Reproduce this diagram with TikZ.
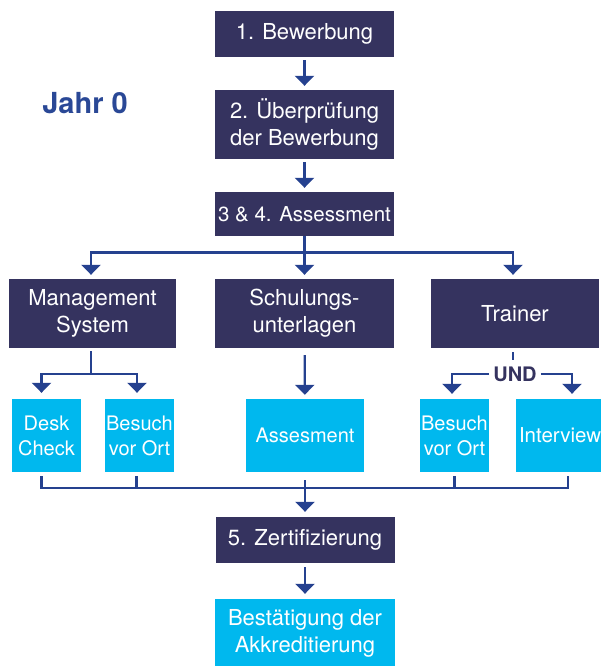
\documentclass[tikz,border=0pt]{standalone}
\usepackage{fontspec}
\setmainfont{TeX Gyre Heros}
\usepackage{xcolor}
\usetikzlibrary{arrows.meta}
\definecolor{navy}{HTML}{35335F}
\definecolor{cyanbox}{HTML}{00B8EE}
\definecolor{wireblue}{HTML}{25418F}
\definecolor{yearblue}{HTML}{2A4896}
\tikzstyle{darkbox}=[fill=navy, text=white, align=center, inner sep=0pt, font=\fontsize{22}{27}\selectfont]
\tikzstyle{lightbox}=[fill=cyanbox, text=white, align=center, inner sep=0pt, font=\fontsize{20}{25}\selectfont]
\tikzstyle{wire}=[draw=wireblue, line width=2.2pt]
\tikzstyle{wirearrow}=[wire, -{Triangle[width=19pt,length=10pt]}]

\begin{document}
\begin{tikzpicture}[x=1pt, y=-1pt]
        \useasboundingbox (0,0) rectangle (601,666);

        % main column
        \node (b1) at (304.5,34) [darkbox, minimum width=179pt, minimum height=46pt] {1. Bewerbung};
        \node (b2) at (304.5,124.5) [darkbox, minimum width=179pt, minimum height=69pt] {2. Überprüfung\\der Bewerbung};
        \node (b3) at (304.5,214) [darkbox, minimum width=179pt, minimum height=44pt, font=\fontsize{20.5}{25}\selectfont] {3 \& 4. Assessment};
        \node (year) at (85,103.5) [text=yearblue, font=\bfseries\fontsize{29}{30}\selectfont] {Jahr 0};

        % three branches
        \node (ms) at (92.5,313.5) [darkbox, minimum width=167pt, minimum height=69pt] {Management\\System};
        \node (su) at (304.5,313.5) [darkbox, minimum width=179pt, minimum height=69pt] {Schulungs-\\unterlagen};
        \node (tr) at (515,313.5) [darkbox, minimum width=168pt, minimum height=69pt] {Trainer};

        % checks
        \node (dc) at (46.5,435.5) [lightbox, minimum width=69pt, minimum height=73pt] {Desk\\Check};
        \node (bo1) at (139.5,435.5) [lightbox, minimum width=69pt, minimum height=73pt] {Besuch\\vor Ort};
        \node (as) at (305,435.5) [lightbox, minimum width=118pt, minimum height=73pt] {Assesment};
        \node (bo2) at (454.5,435.5) [lightbox, minimum width=69pt, minimum height=73pt] {Besuch\\vor Ort};
        \node (iv) at (570,435.5) [lightbox, minimum height=73pt, text width=102pt, align=left, inner xsep=3pt, font=\fontsize{20.5}{25}\selectfont] {Interview};
        \node (und) at (515,374) [text=navy, inner sep=4pt, font=\bfseries\fontsize{20}{24}\selectfont] {UND};

        % result
        \node (z5) at (305,540) [darkbox, minimum width=179pt, minimum height=46pt] {5. Zertifizierung};
        \node (ak) at (305,633.5) [lightbox, minimum width=180pt, minimum height=69pt, font=\fontsize{22}{27}\selectfont] {Bestätigung der\\Akkreditierung};

        \coordinate (split) at (304.5,252.5);
        \coordinate (msj) at (91,374);
        \coordinate (join) at (305,488);

        \draw[wirearrow, shorten <=3pt, shorten >=4pt] (b1) -- (b2);
        \draw[wirearrow, shorten <=3pt, shorten >=4pt] (b2) -- (b3);
        \draw[wirearrow, shorten >=4pt] (b3) -- (su);
        \draw[wirearrow, shorten >=4pt] (split) -| ([xshift=-1.5pt]ms.north);
        \draw[wirearrow, shorten >=4pt] (split) -| ([xshift=-2pt]tr.north);

        \draw[wire, shorten <=3pt] ([xshift=-1.5pt]ms.south) -- (msj);
        \draw[wirearrow, shorten >=6pt] (msj) -| ([xshift=-5pt]dc.north);
        \draw[wirearrow, shorten >=6pt] (msj) -| ([xshift=-2.5pt]bo1.north);
        \draw[wirearrow, shorten <=7pt, shorten >=4pt] (su) -- (as);
        \draw[wire, shorten <=4pt, shorten >=2pt] ([xshift=-2pt]tr.south) -- ([xshift=-2pt]und.north);
        \draw[wirearrow, shorten >=5pt] (und.west) -| ([xshift=-2.5pt]bo2.north);
        \draw[wirearrow, shorten >=5pt] (und.east) -| ([xshift=2pt]iv.north);

        \draw[wire, shorten <=4pt] ([xshift=-5pt]dc.south) |- (join);
        \draw[wire, shorten <=4pt] ([xshift=-3pt]bo1.south) |- (join);
        \draw[wire, shorten <=4pt] (bo2.south) |- (join);
        \draw[wire, shorten <=4pt] ([xshift=-2pt]iv.south) |- (join);
        \draw[wirearrow, shorten <=8pt, shorten >=5pt] (as) -- (z5);
        \draw[wirearrow, shorten <=4pt, shorten >=5pt] (z5) -- (ak);
    \end{tikzpicture}
\end{document}
